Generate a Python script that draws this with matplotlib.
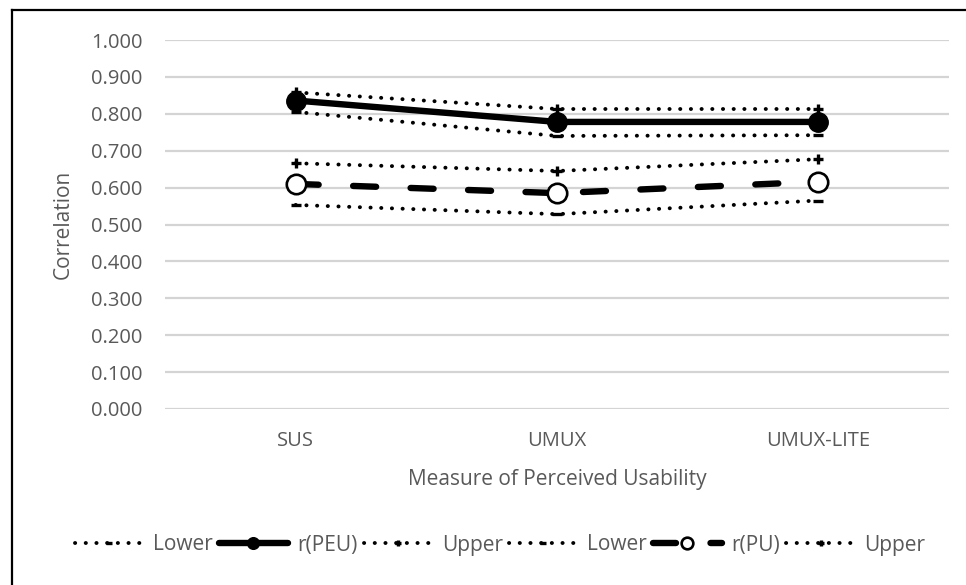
import matplotlib
matplotlib.use("Agg")
import matplotlib.pyplot as plt
from matplotlib.lines import Line2D

# Data: correlation of each usability measure with PEU and PU, with 95% CI bounds
measures = ["SUS", "UMUX", "UMUX-LITE"]
r_peu = [0.836, 0.778, 0.778]
peu_lower = [0.805, 0.740, 0.742]
peu_upper = [0.858, 0.813, 0.813]
r_pu = [0.610, 0.585, 0.616]
pu_lower = [0.553, 0.528, 0.565]
pu_upper = [0.666, 0.645, 0.677]
y_ticks = [0.0, 0.1, 0.2, 0.3, 0.4, 0.5, 0.6, 0.7, 0.8, 0.9, 1.0]

plt.rcParams["font.family"] = ["Open Sans", "DejaVu Sans"]
text_color = "#595959"

W, H = 966, 585
fig = plt.figure(figsize=(W / 100, H / 100), dpi=100)
ax = fig.add_axes([165 / W, 1 - 409 / H, (949 - 165) / W, (409 - 40) / H])

x = list(range(len(measures)))
dot = (0, (0.05, 2.7))
bound_kw = dict(color="black", lw=2.8, linestyle=dot, dash_capstyle="round",
                markersize=7, markeredgewidth=2.4)

ax.plot(x, peu_lower, marker="_", label="Lower", **bound_kw)
ax.plot(x, r_peu, color="black", lw=4.6, marker="o", markersize=14,
        solid_capstyle="round", label="r(PEU)", zorder=4)
ax.plot(x, peu_upper, marker="+", label="Upper", **bound_kw)
ax.plot(x, pu_lower, marker="_", label="Lower", **bound_kw)
ax.plot(x, r_pu, color="black", lw=4.6, linestyle=(0, (3.6, 5.4)),
        dash_capstyle="round", marker="o", markersize=14,
        markerfacecolor="white", markeredgecolor="black", markeredgewidth=1.9,
        label="r(PU)", zorder=4)
ax.plot(x, pu_upper, marker="+", label="Upper", **bound_kw)

ax.set_xlim(-0.5, len(measures) - 0.5)
ax.set_ylim(0, 1.0)
ax.set_yticks(y_ticks)
ax.set_yticklabels([f"{v:.3f}" for v in y_ticks])
ax.set_xticks(x)
ax.set_xticklabels(measures)
ax.grid(axis="y", color="#d4d4d4", lw=1.6)
ax.set_axisbelow(True)
for s in ax.spines.values():
    s.set_visible(False)
ax.tick_params(axis="both", length=0, labelsize=14.5, labelcolor=text_color)
ax.tick_params(axis="y", pad=16)
ax.tick_params(axis="x", pad=16)

ax.set_ylabel("Correlation", fontsize=15, color=text_color)
ax.yaxis.set_label_coords(-0.116, 0.5)
ax.set_xlabel("Measure of Perceived Usability", fontsize=15, color=text_color)
ax.xaxis.set_label_coords(0.5, -0.163)

handles, labels = ax.get_legend_handles_labels()
leg = fig.legend(handles, labels, loc="center",
                 bbox_to_anchor=(500 / W, 1 - 545 / H),
                 ncol=6, frameon=False, fontsize=15, handlelength=3.3,
                 handletextpad=0.45, columnspacing=0.3, numpoints=1,
                 markerscale=0.6)
for t in leg.get_texts():
    t.set_color(text_color)

# Outer chart border (left and top edges)
fig.add_artist(Line2D([12 / W, 12 / W], [0, 1 - 10 / H], color="black", lw=1.6,
                      transform=fig.transFigure))
fig.add_artist(Line2D([12 / W, 1], [1 - 10 / H, 1 - 10 / H], color="black", lw=1.6,
                      transform=fig.transFigure))

fig.savefig("out.png", dpi=100, facecolor="white")
